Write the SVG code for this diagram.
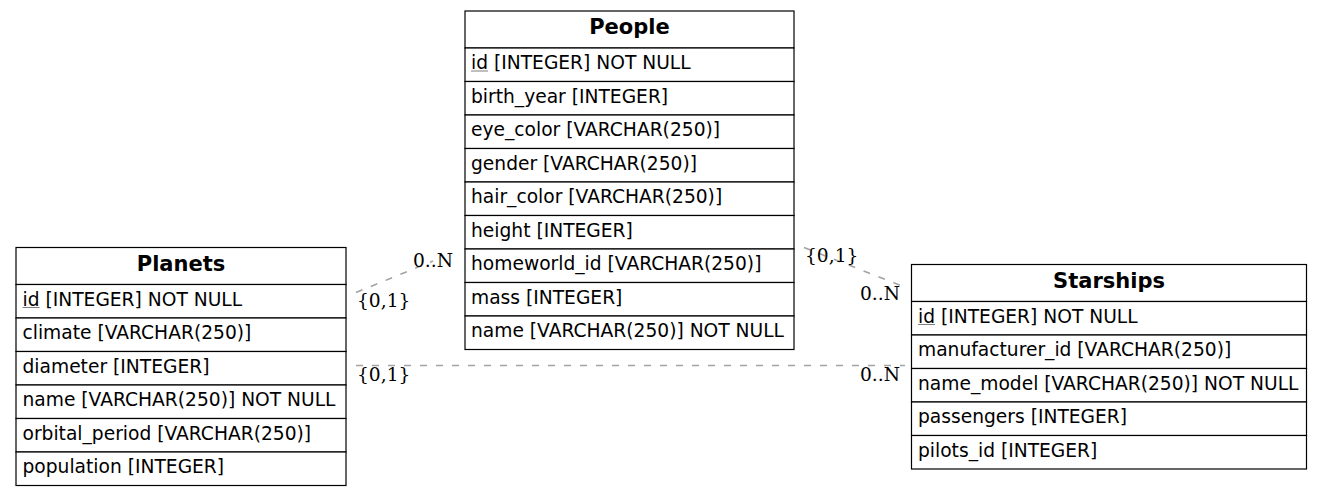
<svg xmlns="http://www.w3.org/2000/svg" width="1323" height="495" viewBox="0 0 1323 495">
<style>
.box{fill:#fff;stroke:#000;stroke-width:1.2}
.hd{font-family:"DejaVu Sans",sans-serif;font-weight:bold;font-size:21px;text-anchor:middle;fill:#000}
.rw{font-family:"DejaVu Sans",sans-serif;font-size:18.67px;fill:#000}
.ul{stroke:#808080;stroke-width:1}
.edge{fill:none;stroke:#a3a3a3;stroke-width:1.6;stroke-dasharray:7,9}
.el{font-family:"DejaVu Serif",serif;font-size:18.67px;fill:#000}
</style>
<rect width="1323" height="495" fill="#fff"/>
<g id="connectors">
<line class="edge" x1="356" y1="292.5" x2="433" y2="261"/>
<line class="edge" x1="804" y1="247.5" x2="902" y2="286"/>
<line class="edge" x1="356" y1="365.5" x2="905" y2="365.5"/>
<text class="el" x="453" y="267" text-anchor="end">0..N</text>
<text class="el" x="357" y="307">{0,1}</text>
<text class="el" x="805" y="262">{0,1}</text>
<text class="el" x="900" y="300" text-anchor="end">0..N</text>
<text class="el" x="357" y="381">{0,1}</text>
<text class="el" x="900" y="381" text-anchor="end">0..N</text>
</g>
<g id="People">
<rect class="box" x="465" y="11" width="329" height="37"/>
<text class="hd" x="629.5" y="34">People</text>
<rect class="box" x="465" y="48" width="329" height="33.5"/>
<text class="rw" x="471" y="69">id [INTEGER] NOT NULL</text>
<line class="ul" x1="471" y1="71" x2="488" y2="71"/>
<rect class="box" x="465" y="81.5" width="329" height="33.5"/>
<text class="rw" x="471" y="102.5">birth_year [INTEGER]</text>
<rect class="box" x="465" y="115" width="329" height="33.5"/>
<text class="rw" x="471" y="136">eye_color [VARCHAR(250)]</text>
<rect class="box" x="465" y="148.5" width="329" height="33.5"/>
<text class="rw" x="471" y="169.5">gender [VARCHAR(250)]</text>
<rect class="box" x="465" y="182" width="329" height="33.5"/>
<text class="rw" x="471" y="203">hair_color [VARCHAR(250)]</text>
<rect class="box" x="465" y="215.5" width="329" height="33.5"/>
<text class="rw" x="471" y="236.5">height [INTEGER]</text>
<rect class="box" x="465" y="249" width="329" height="33.5"/>
<text class="rw" x="471" y="270">homeworld_id [VARCHAR(250)]</text>
<rect class="box" x="465" y="282.5" width="329" height="33.5"/>
<text class="rw" x="471" y="303.5">mass [INTEGER]</text>
<rect class="box" x="465" y="316" width="329" height="33.5"/>
<text class="rw" x="471" y="337">name [VARCHAR(250)] NOT NULL</text>
</g>
<g id="Planets">
<rect class="box" x="16" y="247.5" width="330" height="37"/>
<text class="hd" x="181" y="270.5">Planets</text>
<rect class="box" x="16" y="284.5" width="330" height="33.5"/>
<text class="rw" x="22.5" y="305.5">id [INTEGER] NOT NULL</text>
<line class="ul" x1="22.5" y1="307.5" x2="39.5" y2="307.5"/>
<rect class="box" x="16" y="318" width="330" height="33.5"/>
<text class="rw" x="22.5" y="339">climate [VARCHAR(250)]</text>
<rect class="box" x="16" y="351.5" width="330" height="33.5"/>
<text class="rw" x="22.5" y="372.5">diameter [INTEGER]</text>
<rect class="box" x="16" y="385" width="330" height="33.5"/>
<text class="rw" x="22.5" y="406">name [VARCHAR(250)] NOT NULL</text>
<rect class="box" x="16" y="418.5" width="330" height="33.5"/>
<text class="rw" x="22.5" y="439.5">orbital_period [VARCHAR(250)]</text>
<rect class="box" x="16" y="452" width="330" height="33.5"/>
<text class="rw" x="22.5" y="473">population [INTEGER]</text>
</g>
<g id="Starships">
<rect class="box" x="911.5" y="264.5" width="395" height="37"/>
<text class="hd" x="1109" y="287.5">Starships</text>
<rect class="box" x="911.5" y="301.5" width="395" height="33.5"/>
<text class="rw" x="918" y="322.5">id [INTEGER] NOT NULL</text>
<line class="ul" x1="918" y1="324.5" x2="935" y2="324.5"/>
<rect class="box" x="911.5" y="335" width="395" height="33.5"/>
<text class="rw" x="918" y="356">manufacturer_id [VARCHAR(250)]</text>
<rect class="box" x="911.5" y="368.5" width="395" height="33.5"/>
<text class="rw" x="918" y="389.5">name_model [VARCHAR(250)] NOT NULL</text>
<rect class="box" x="911.5" y="402" width="395" height="33.5"/>
<text class="rw" x="918" y="423">passengers [INTEGER]</text>
<rect class="box" x="911.5" y="435.5" width="395" height="33.5"/>
<text class="rw" x="918" y="456.5">pilots_id [INTEGER]</text>
</g>
</svg>
